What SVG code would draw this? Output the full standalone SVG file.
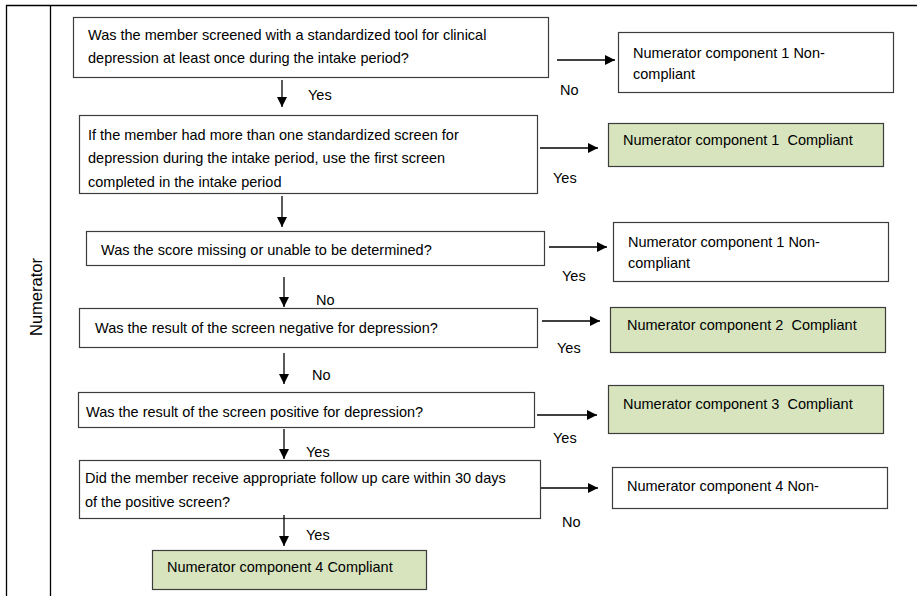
<svg xmlns="http://www.w3.org/2000/svg" width="917" height="596" viewBox="0 0 917 596">
<defs>
<marker id="ah" viewBox="0 0 10 10" refX="10" refY="5" markerWidth="10" markerHeight="10" markerUnits="userSpaceOnUse" orient="auto">
<path d="M0,0 L10,5 L0,10 Z" fill="#000"/>
</marker>
<style>
text{font-family:"Liberation Sans",Arial,sans-serif;font-size:14.5px;fill:#000}
.b{fill:#fff;stroke:#3c3c3c;stroke-width:1.2}
.g{fill:#d7e4bd;stroke:#3c3c3c;stroke-width:1.2}
.c{stroke:#000;stroke-width:1.3;fill:none;marker-end:url(#ah)}
.f{stroke:#000;stroke-width:1.3;fill:none}
.side{font-size:16.5px}
</style>
</defs>
<rect width="917" height="596" fill="#fff"/>
<g id="frame">
<line class="f" x1="6" y1="5.5" x2="917" y2="5.5"/>
<line class="f" x1="6.5" y1="5" x2="6.5" y2="596"/>
<line class="f" x1="50.5" y1="5" x2="50.5" y2="596"/>
<text class="side" transform="translate(42,297) rotate(-90)" text-anchor="middle">Numerator</text>
</g>
<g id="q1"><rect class="b" x="73.5" y="17.5" width="475" height="60"/>
<text x="88" y="39.5">Was the member screened with a standardized tool for clinical</text>
<text x="88" y="62.5">depression at least once during the intake period?</text></g>
<g id="n1"><rect class="b" x="618.5" y="32.5" width="275" height="60"/>
<text x="633" y="57.5">Numerator component 1 Non-</text>
<text x="633" y="78.5">compliant</text></g>
<g id="q2"><rect class="b" x="79.5" y="115.5" width="458" height="78"/>
<text x="88" y="140">If the member had more than one standardized screen for</text>
<text x="88" y="163">depression during the intake period, use the first screen</text>
<text x="88" y="186.5">completed in the intake period</text></g>
<g id="c1"><rect class="g" x="608.5" y="123.5" width="275" height="43"/>
<text x="623" y="145" xml:space="preserve">Numerator component 1  Compliant</text></g>
<g id="q3"><rect class="b" x="86.5" y="231.5" width="458" height="34"/>
<text x="101" y="255">Was the score missing or unable to be determined?</text></g>
<g id="n1b"><rect class="b" x="613.5" y="222.5" width="275" height="59"/>
<text x="628" y="247">Numerator component 1 Non-</text>
<text x="628" y="268">compliant</text></g>
<g id="q4"><rect class="b" x="79.5" y="308.5" width="458" height="39"/>
<text x="95" y="333">Was the result of the screen negative for depression?</text></g>
<g id="c2"><rect class="g" x="610.5" y="307.5" width="275" height="45"/>
<text x="627" y="330" xml:space="preserve">Numerator component 2  Compliant</text></g>
<g id="q5"><rect class="b" x="78.5" y="392.5" width="456" height="35"/>
<text x="86" y="417">Was the result of the screen positive for depression?</text></g>
<g id="c3"><rect class="g" x="608.5" y="385.5" width="275" height="48"/>
<text x="623" y="408.5" xml:space="preserve">Numerator component 3  Compliant</text></g>
<g id="q6"><rect class="b" x="79.5" y="460.5" width="461" height="58"/>
<text x="85" y="483">Did the member receive appropriate follow up care within 30 days</text>
<text x="85" y="507">of the positive screen?</text></g>
<g id="n4"><rect class="b" x="612.5" y="467.5" width="275" height="41"/>
<text x="627" y="491">Numerator component 4 Non-</text></g>
<g id="c4"><rect class="g" x="152.5" y="550.5" width="274" height="39"/>
<text x="167" y="572">Numerator component 4 Compliant</text></g>
<g id="connectors">
<line class="c" x1="282" y1="80" x2="282" y2="107"/>
<line class="c" x1="282" y1="196" x2="282" y2="227"/>
<line class="c" x1="284" y1="277" x2="284" y2="307"/>
<line class="c" x1="284" y1="353" x2="284" y2="384"/>
<line class="c" x1="284" y1="429" x2="284" y2="459"/>
<line class="c" x1="284" y1="515" x2="284" y2="546"/>
<line class="c" x1="557" y1="60" x2="615" y2="60"/>
<line class="c" x1="540" y1="148" x2="598" y2="148"/>
<line class="c" x1="549" y1="247" x2="607" y2="247"/>
<line class="c" x1="542" y1="321" x2="600" y2="321"/>
<line class="c" x1="537" y1="415" x2="597" y2="415"/>
<line class="c" x1="541" y1="488" x2="598" y2="488"/>
<text x="308" y="100">Yes</text>
<text x="560" y="95">No</text>
<text x="553" y="183">Yes</text>
<text x="562" y="281">Yes</text>
<text x="316" y="305">No</text>
<text x="557" y="353">Yes</text>
<text x="312" y="380">No</text>
<text x="553" y="443">Yes</text>
<text x="306" y="457">Yes</text>
<text x="562" y="527">No</text>
<text x="306" y="540">Yes</text>
</g>
</svg>
